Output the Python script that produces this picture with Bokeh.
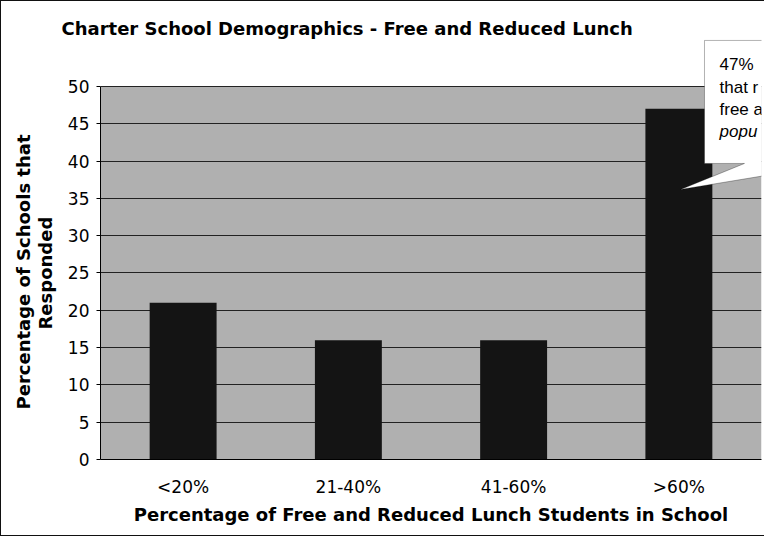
from bokeh.plotting import figure
from bokeh.models import PolyAnnotation, BoxAnnotation, Label, Title, FixedTicker, Range1d, FactorRange
from bokeh.embed import file_html
from bokeh.resources import INLINE

# ---- data ----
categories = ["<20%", "21-40%", "41-60%", ">60%"]
percent_schools = [21, 16, 16, 47]
y_ticks = [0, 5, 10, 15, 20, 25, 30, 35, 40, 45, 50]
title_text = "Charter School Demographics - Free and Reduced Lunch"
x_title = "Percentage of Free and Reduced Lunch Students in School"
y_title_lines = ["Percentage of Schools that", "Responded"]
callout_lines = ["47%", "that r", "free a", "popu"]

FONT = "DejaVu Sans"
AXIS_MAX = 50
HEADROOM = 56.43   # extra room above the axis for the callout box

p = figure(x_range=FactorRange(factors=categories), y_range=Range1d(0, HEADROOM),
           width=764, height=536, output_backend="svg", toolbar_location=None,
           min_border_left=99, min_border_right=4, min_border_top=37, min_border_bottom=78,
           background_fill_color="white", border_fill_color="white",
           outline_line_color=None)
p.styles = {"border-left": "1px solid #111", "border-top": "1px solid #111",
            "border-bottom": "1px solid #111"}

# grey plot area (0..50)
p.add_layout(BoxAnnotation(bottom=0, top=AXIS_MAX, fill_color="#b0b0b0", fill_alpha=1.0,
                           line_color=None, level="image"))

p.vbar(x=categories, top=percent_schools, width=0.405,
       fill_color="#141414", line_color=None)

# chart title
t = Title(text=title_text, align="left", offset=-39, standoff=0,
          text_font=FONT, text_font_style="bold", text_font_size="18px",
          text_color="#000000")
p.add_layout(t, "above")

# axes
p.yaxis.ticker = FixedTicker(ticks=y_ticks)
p.yaxis.bounds = (0, AXIS_MAX)
p.ygrid.ticker = FixedTicker(ticks=y_ticks[1:])
p.ygrid.grid_line_color = "#222222"
p.ygrid.grid_line_width = 1
p.xgrid.grid_line_color = None

for ax in (p.xaxis[0], p.yaxis[0]):
    ax.axis_line_color = "#000000"
    ax.axis_line_width = 1
    ax.minor_tick_line_color = None
    ax.major_label_text_font = FONT
    ax.major_label_text_font_size = "17px"
    ax.major_label_text_color = "#000000"
    ax.axis_label_text_font = FONT
    ax.axis_label_text_font_style = "bold"
    ax.axis_label_text_font_size = "18px"
    ax.axis_label_text_color = "#000000"

p.yaxis.major_tick_out = 4
p.yaxis.major_tick_in = 0
p.yaxis.major_tick_line_color = "#000000"
p.yaxis.major_label_standoff = 7

# y-axis title: two centred lines, centred on the 0..50 part of the axis
line2 = Title(text=y_title_lines[1], align="left", offset=130, standoff=18,
              text_font=FONT, text_font_style="bold", text_font_size="18px",
              text_color="#000000")
p.add_layout(line2, "left")
line1 = Title(text=y_title_lines[0], align="left", offset=50, standoff=-20,
              text_font=FONT, text_font_style="bold", text_font_size="18px",
              text_color="#000000")
p.add_layout(line1, "left")

p.xaxis.axis_label = x_title
p.xaxis.major_tick_out = 0
p.xaxis.major_tick_in = 0
p.xaxis.major_tick_line_color = None
p.xaxis.major_label_standoff = 17
p.xaxis.axis_label_standoff = 4

# callout (wedge rectangle) pointing at the last bar
cx0, cx1 = 3.655, 4.8
cy_top, cy_bot = 56.17, 39.68
tip_x, tip_y = 3.51, 36.19
p.add_layout(PolyAnnotation(
    xs=[cx0, cx1, cx1, 4.466, tip_x, 3.897, cx0],
    ys=[cy_top, cy_top, cy_bot, cy_bot, tip_y, cy_bot, cy_bot],
    fill_color="white", fill_alpha=1.0, line_color="#000000", line_width=1))

line_ys = [52.95, 49.87, 46.92, 43.97]
for i, (txt, yy) in enumerate(zip(callout_lines, line_ys)):
    p.add_layout(Label(x=3.746, y=yy, text=txt, text_baseline="middle",
                       text_font="Liberation Sans", text_font_size="17px",
                       text_font_style="italic" if i == 3 else "normal",
                       text_color="#000000"))

open("out.html", "w").write(file_html(p, INLINE))
